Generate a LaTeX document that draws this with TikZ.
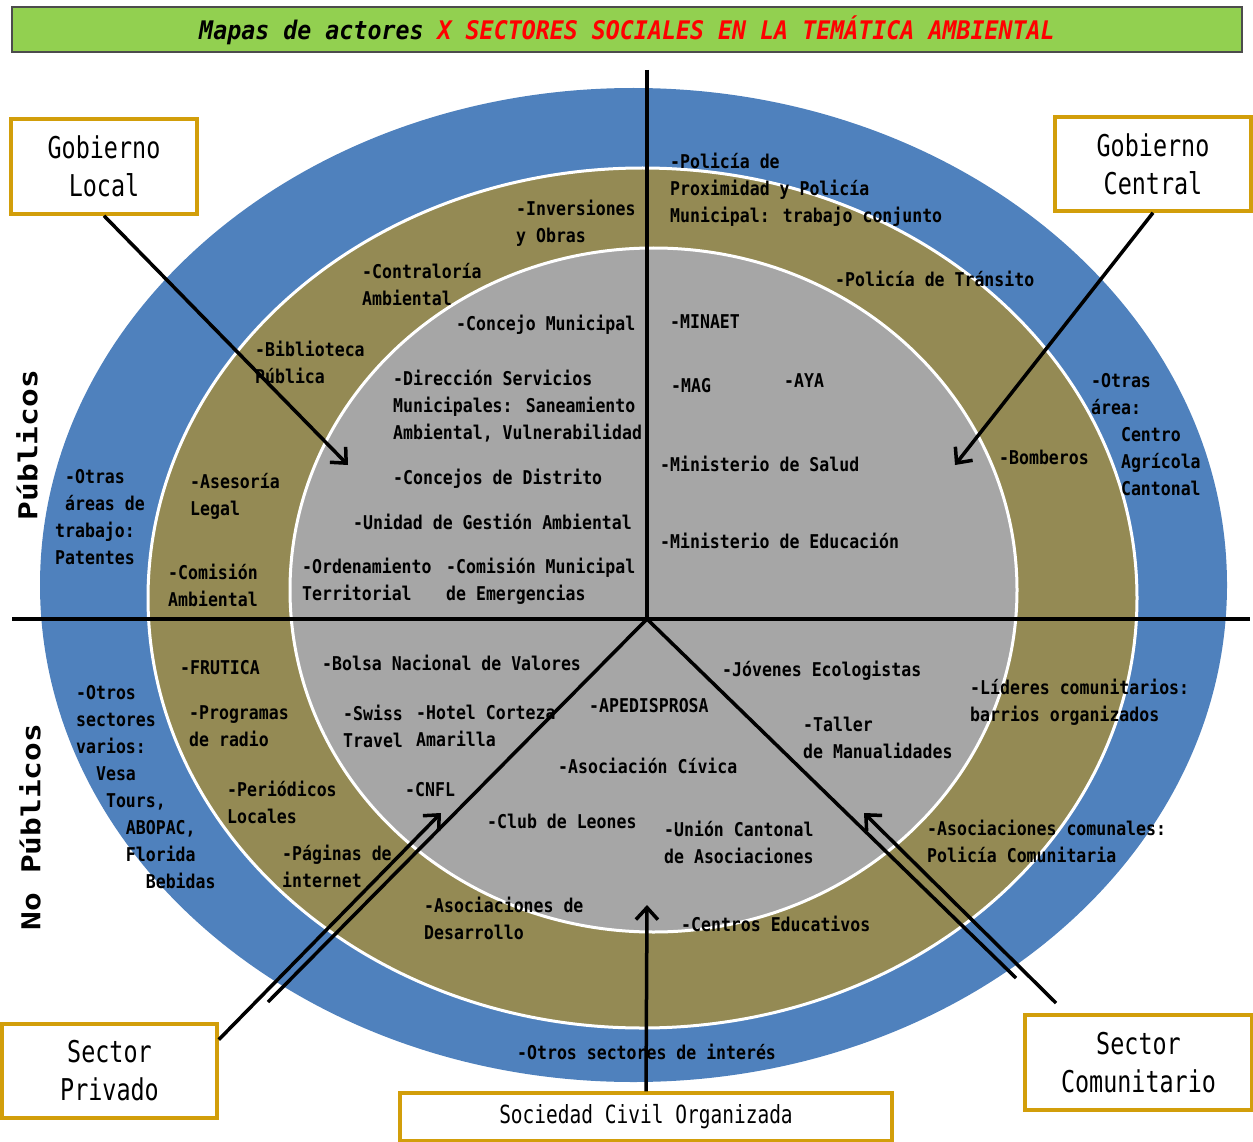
\documentclass[tikz,border=0pt]{standalone}
\usepackage{fontspec}
\usetikzlibrary{arrows.meta}
\newfontfamily\bodyfont[FakeStretch=0.87]{DejaVu Sans Mono}
\newfontfamily\boxfont[FakeStretch=0.78]{DejaVu Sans Mono}
\newfontfamily\titlefont[FakeStretch=0.91,ItalicFont={DejaVu Sans Mono Oblique},BoldItalicFont={DejaVu Sans Mono Bold Oblique}]{DejaVu Sans Mono}
\newfontfamily\sidefont[FakeStretch=1.2]{DejaVu Sans Mono}
\definecolor{ringblue}{HTML}{4F81BD}
\definecolor{ringolive}{HTML}{948A54}
\definecolor{ringgray}{HTML}{A6A6A6}
\definecolor{boxgold}{RGB}{210,158,10}
\definecolor{titlegreen}{HTML}{92D050}
\definecolor{titlered}{HTML}{FF0000}
\newlength\chw
\setlength\chw{9.95pt}
\newcommand\ic[1]{\makebox[#1\chw]{}}
\tikzset{
  lbl/.style={anchor=north west, inner sep=0pt, align=left, yshift=7.5pt,
    font=\bodyfont\bfseries\fontsize{19}{27}\selectfont},
  actorbox/.style={draw=boxgold, line width=3.5pt, fill=white, inner sep=0pt,
    align=center, font=\boxfont\fontsize{30}{38}\selectfont},
  divider/.style={line width=3.5pt, black},
  arr/.style={line width=3.5pt, black, -{Straight Barb[length=12pt,width=22pt]}},
  side/.style={inner sep=0pt, font=\sidefont\bfseries\fontsize{26}{30}\selectfont},
  titlebar/.style={draw=gray!60!black, line width=2pt, fill=titlegreen, inner sep=0pt,
    minimum width=1230pt, minimum height=45pt,
    font=\titlefont\bfseries\itshape\fontsize{25.6}{30}\selectfont}
}
\begin{document}
\begin{tikzpicture}[x=1pt,y=-1pt]
\useasboundingbox (0,0) rectangle (1253,1142);
% title
\node[titlebar] (title) at (627,30) {Mapas de actores \textcolor{titlered}{X SECTORES SOCIALES EN LA TEMÁTICA AMBIENTAL}};
% rings
\fill[ringblue] (633.5,585) ellipse [x radius=593.5, y radius=497];
\filldraw[fill=ringolive, draw=white, line width=3pt] (642.5,598) ellipse [x radius=494.5, y radius=430];
\filldraw[fill=ringgray, draw=white, line width=3pt] (653.5,590) ellipse [x radius=363.5, y radius=342];
% side labels
\node[side, rotate=90] (pub) at (27,445) {Públicos};
\node[side, rotate=90] (nopub) at (30,827) {No Públicos};
% upper left
\node[lbl] (n1) at (516,207) {-Inversiones\\y Obras};
\node[lbl] (n2) at (362,271) {-Contraloría\\Ambiental};
\node[lbl] (n3) at (456,322) {-Concejo Municipal};
\node[lbl] (n4) at (255,348) {-Biblioteca\\Pública};
\node[lbl] (n5) at (393,377) {-Dirección Servicios\\Municipales: Saneamiento\\Ambiental, Vulnerabilidad};
\node[lbl] (n6) at (393,476) {-Concejos de Distrito};
\node[lbl] (n7) at (190,481) {-Asesoría\\Legal};
\node[lbl] (n8) at (55,477) {\ic{1}-Otras\\\ic{1}áreas de\\trabajo:\\Patentes};
\node[lbl] (n9) at (353,521) {-Unidad de Gestión Ambiental};
\node[lbl] (n10) at (168,571) {-Comisión\\Ambiental};
\node[lbl] (n11) at (302,565) {-Ordenamiento\\Territorial};
\node[lbl] (n12) at (446,565) {-Comisión Municipal\\de Emergencias};
% upper right
\node[lbl] (n13) at (670,160) {-Policía de\\Proximidad y Policía\\Municipal: trabajo conjunto};
\node[lbl] (n14) at (835,278) {-Policía de Tránsito};
\node[lbl] (n15) at (670,322) {-MINAET};
\node[lbl] (n16) at (671,386) {-MAG};
\node[lbl] (n17) at (784,381) {-AYA};
\node[lbl] (n18) at (660,463) {-Ministerio de Salud};
\node[lbl] (n19) at (660,540) {-Ministerio de Educación};
\node[lbl] (n20) at (999,457) {-Bomberos};
\node[lbl] (n21) at (1091,381) {-Otras\\área:\\\ic{3}Centro\\\ic{3}Agrícola\\\ic{3}Cantonal};
% lower left
\node[lbl] (n22) at (180,668) {-FRUTICA};
\node[lbl] (n23) at (322,662) {-Bolsa Nacional de Valores};
\node[lbl] (n24) at (76,693) {-Otros\\sectores\\varios:\\\ic{2}Vesa\\\ic{3}Tours,\\\ic{5}ABOPAC,\\\ic{5}Florida\\\ic{7}Bebidas};
\node[lbl] (n25) at (189,713) {-Programas\\de radio};
\node[lbl] (n26) at (343,712) {-Swiss\\Travel};
\node[lbl] (n27) at (416,712) {-Hotel Corteza\\Amarilla};
\node[lbl] (n28) at (227,788) {-Periódicos\\Locales};
\node[lbl] (n29) at (405,790) {-CNFL};
\node[lbl] (n30) at (282,852) {-Páginas de\\internet};
\node[lbl] (n31) at (424,904) {-Asociaciones de\\Desarrollo};
% middle bottom
\node[lbl] (n32) at (589,706) {-APEDISPROSA};
\node[lbl] (n33) at (558,765) {-Asociación Cívica};
\node[lbl] (n34) at (487,821) {-Club de Leones};
\node[lbl] (n35) at (664,828) {-Unión Cantonal\\de Asociaciones};
\node[lbl] (n36) at (681,923) {-Centros Educativos};
\node[lbl] (n37) at (517,1051) {-Otros sectores de interés};
% lower right
\node[lbl] (n38) at (722,668) {-Jóvenes Ecologistas};
\node[lbl] (n39) at (803,724) {-Taller\\de Manualidades};
\node[lbl] (n40) at (970,686) {-Líderes comunitarios:\\barrios organizados};
\node[lbl] (n41) at (927,827) {-Asociaciones comunales:\\Policía Comunitaria};
% dividers
\coordinate (c) at (647,619);
\coordinate (vtop) at (647,70);
\coordinate (hl) at (12,619);
\coordinate (hr) at (1250,619);
\coordinate (dl) at (268,1002);
\coordinate (dr) at (1016,978);
\draw[divider] (hl) -- (hr);
\draw[divider] (vtop) -- (c);
\draw[divider] (c) -- (dl);
\draw[divider] (c) -- (dr);
% boxes
\node[actorbox, minimum width=186pt, minimum height=95pt] (gl) at (104,166.5) {Gobierno\\Local};
\node[actorbox, minimum width=196pt, minimum height=94pt] (gc) at (1153,164) {Gobierno\\Central};
\node[actorbox, minimum width=215pt, minimum height=94pt] (sp) at (109.5,1071) {Sector\\Privado};
\node[actorbox, minimum width=227pt, minimum height=95pt] (sc) at (1138.5,1062.5) {Sector\\Comunitario};
\node[actorbox, minimum width=492pt, minimum height=48pt, font=\boxfont\fontsize{25}{30}\selectfont] (soc) at (646,1117) {Sociedad Civil Organizada};
% arrows
\coordinate (tgl) at (348,465);
\coordinate (tgc) at (955,465);
\coordinate (tsp) at (441,813);
\coordinate (tsc) at (864,813);
\coordinate (ssc) at (1056,1003);
\coordinate (tsoc) at (647,905);
\draw[arr] (gl.south) -- (tgl);
\draw[arr] (gc.south) -- (tgc);
\draw[arr] (sp.16) -- (tsp);
\draw[arr] (ssc) -- (tsc);
\draw[arr] (soc.north) -- (tsoc);
\end{tikzpicture}
\end{document}
